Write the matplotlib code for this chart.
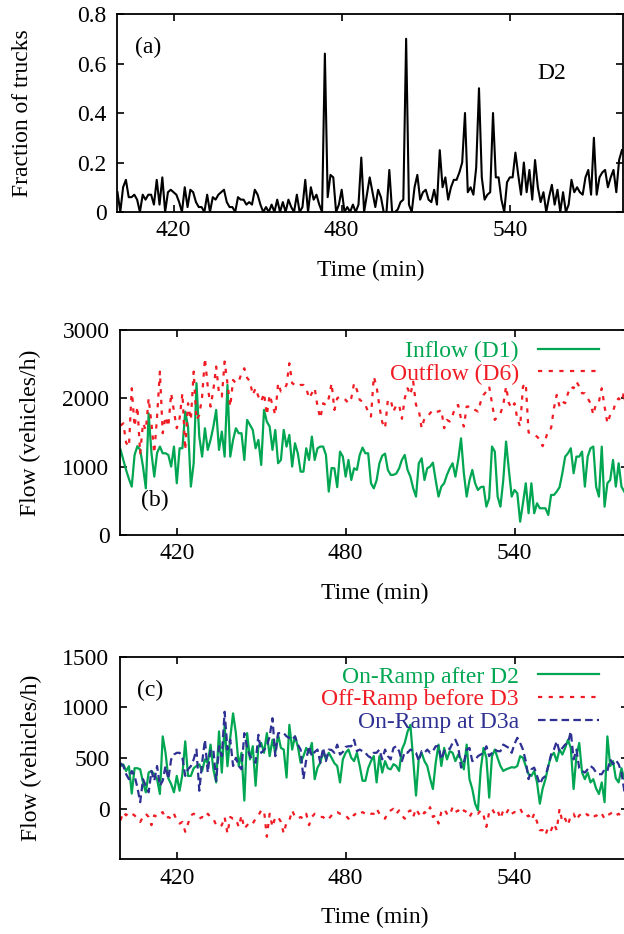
import matplotlib
matplotlib.use("Agg")
import matplotlib.pyplot as plt

plt.rcParams['font.family'] = ['Liberation Serif', 'DejaVu Serif']

# time in minutes, one sample per minute
time = list(range(400, 581))

# (a) fraction of trucks at D2
trucks = [0.08, 0.0, 0.10, 0.13, 0.06, 0.06, 0.07, 0.05, 0.0, 0.07,
          0.05, 0.07, 0.07, 0.03, 0.13, 0.03, 0.14, 0.0, 0.08, 0.09,
          0.08, 0.07, 0.04, 0.0, 0.10, 0.02, 0.09, 0.08, 0.04, 0.02,
          0.02, 0.0, 0.07, 0.0, 0.06, 0.05, 0.07, 0.08, 0.09, 0.04,
          0.02, 0.02, 0.0, 0.06, 0.05, 0.05, 0.03, 0.04, 0.03, 0.09,
          0.07, 0.03, 0.0, 0.02, 0.0, 0.03, 0.0, 0.05, 0.0, 0.04,
          0.0, 0.05, 0.02, 0.0, 0.07, 0.0, 0.02, 0.13, 0.0, 0.10,
          0.05, 0.07, 0.03, 0.0, 0.64, 0.06, 0.15, 0.14, 0.0, 0.03,
          0.09, 0.0, 0.02, 0.0, 0.03, 0.0, 0.03, 0.22, 0.0, 0.07,
          0.14, 0.08, 0.02, 0.09, 0.06, 0.0, 0.0, 0.17, 0.0, 0.0,
          0.01, 0.04, 0.05, 0.70, 0.03, 0.0, 0.10, 0.15, 0.05, 0.08,
          0.09, 0.05, 0.04, 0.09, 0.03, 0.25, 0.10, 0.14, 0.05, 0.10,
          0.13, 0.13, 0.16, 0.20, 0.40, 0.08, 0.10, 0.07, 0.18, 0.50,
          0.14, 0.05, 0.07, 0.08, 0.40, 0.14, 0.14, 0.05, 0.0, 0.12,
          0.14, 0.14, 0.24, 0.15, 0.07, 0.20, 0.08, 0.17, 0.05, 0.21,
          0.10, 0.04, 0.08, 0.0, 0.06, 0.11, 0.03, 0.09, 0.0, 0.08,
          0.0, 0.03, 0.13, 0.08, 0.10, 0.08, 0.07, 0.14, 0.17, 0.07,
          0.30, 0.07, 0.14, 0.16, 0.17, 0.10, 0.14, 0.17, 0.08, 0.21,
          0.25]

# (b) inflow D1 / outflow D6 (vehicles/h)
inflow = [1250, 1100, 950, 820, 708, 1171, 1300, 1245, 1000, 683,
          1780, 1200, 854, 1200, 1294, 1196, 1196, 1171, 1001, 1294,
          757, 1269, 1269, 1806, 1586, 708, 1050, 2221, 1440, 1147,
          1562, 1245, 1391, 1586, 1830, 1245, 1513, 1147, 2196, 1147,
          1391, 1562, 1489, 1489, 1098, 1684, 1611, 1537, 1269, 1391,
          1025, 1830, 1659, 1586, 1245, 1537, 1050, 1098, 1537, 1294,
          1464, 1001, 1342, 1196, 927, 927, 1269, 1098, 1440, 1098,
          1269, 1294, 1294, 1171, 635, 980, 976, 700, 1220, 1147,
          854, 1098, 805, 976, 952, 1171, 1279, 1196, 1196, 757,
          683, 800, 1050, 1160, 1190, 952, 880, 880, 900, 976,
          1100, 1171, 952, 854, 683, 562, 1050, 1123, 805, 976,
          1001, 1059, 800, 562, 708, 757, 880, 976, 1050, 854,
          1100, 1415, 903, 562, 800, 952, 757, 659, 700, 708,
          415, 537, 1294, 1220, 562, 415, 800, 1367, 952, 562,
          659, 610, 195, 464, 757, 318, 757, 318, 464, 391,
          391, 391, 293, 586, 586, 635, 700, 903, 1147, 1196,
          1269, 903, 1147, 1147, 1220, 708, 1147, 1269, 1294, 708,
          562, 1294, 415, 757, 805, 1098, 708, 1050, 708, 635,
          560]
outflow = [1600, 1635, 1350, 1293, 2147, 1586, 1879, 1196, 1635, 1537,
           2001, 1635, 1196, 1733, 2391, 1489, 1733, 1586, 2074, 1806,
           1562, 1708, 2074, 1245, 1928, 1684, 2391, 1684, 1757, 2025,
           2587, 2172, 1879, 2123, 2465, 2074, 2025, 2538, 2221, 1879,
           2269, 2221, 2245, 2367, 2440, 2300, 2245, 2050, 2147, 2025,
           1952, 2074, 1757, 2050, 1903, 1757, 2221, 2099, 2123, 2196,
           2513, 2221, 2196, 2172, 2196, 2196, 2147, 2001, 2074, 2150,
           1879, 1708, 1928, 1903, 2001, 2221, 1830, 2001, 2025, 2000,
           1977, 1928, 2001, 2221, 2123, 1977, 1952, 1903, 1800, 1733,
           2318, 2172, 1879, 1650, 1562, 1977, 1977, 1806, 1903, 1903,
           1700, 2000, 2147, 2050, 2245, 1903, 1830, 1562, 1708, 1733,
           1780, 1830, 1806, 1806, 1830, 1562, 1684, 1660, 1750, 1879,
           1903, 1700, 1586, 1879, 1879, 1879, 1830, 1806, 1952, 2050,
           2100, 2172, 1928, 1684, 1733, 1780, 1903, 2172, 1928, 1855,
           1928, 1700, 1586, 2172, 2221, 1500, 1489, 1464, 1440, 1391,
           1300, 1400, 1537, 1562, 1855, 2050, 1879, 1952, 1928, 2074,
           2172, 2147, 2245, 2172, 2074, 2074, 2001, 1928, 1760, 1928,
           1952, 2147, 1879, 1635, 1757, 1806, 1950, 2001, 1952, 2100,
           1300]

# (c) ramp flows (vehicles/h)
onramp_d2 = [420, 438, 373, 420, 150, 400, 400, 389, 260, 162,
             357, 373, 340, 292, 146, 714, 552, 300, 243, 162,
             324, 178, 341, 665, 324, 324, 400, 422, 438, 373,
             487, 450, 633, 389, 260, 763, 357, 828, 420, 700,
             941, 746, 422, 552, 81, 746, 487, 617, 227, 617,
             649, 552, 746, 519, 681, 552, 730, 600, 584, 308,
             828, 584, 714, 617, 454, 519, 600, 552, 649, 292,
             406, 454, 568, 487, 552, 503, 450, 422, 260, 487,
             552, 584, 503, 470, 552, 422, 276, 276, 400, 470,
             520, 260, 519, 357, 470, 400, 389, 440, 422, 373,
             584, 650, 760, 828, 487, 130, 503, 552, 470, 422,
             300, 195, 454, 633, 422, 600, 487, 568, 552, 470,
             535, 487, 389, 633, 292, 195, 50, -16, 389, 600,
             503, 110, 519, 584, 500, 422, 373, 389, 400, 410,
             406, 422, 519, 503, 422, 340, 324, 373, 260, 50,
             200, 292, 422, 519, 552, 470, 584, 535, 600, 681,
             600, 195, 519, 649, 357, 292, 357, 260, 292, 200,
             146, 260, 65, 714, 422, 470, 300, 260, 400, 292,
             389]
offramp_d3 = [-114, -33, -65, -33, -49, -65, -98, -130, -81, -49,
              -81, -162, -65, -81, -49, -33, -98, -81, -98, -49,
              -114, -146, -130, -227, -146, -65, -49, -65, -98, -81,
              -98, -49, -81, -98, -162, -179, -162, -81, -244, -81,
              -98, -98, -179, -65, -195, -162, -130, -146, -98, -65,
              -16, -16, -276, -49, -179, -81, -81, -130, -244, -130,
              -114, -16, -81, -98, -81, -98, -49, -162, -81, -49,
              -65, -81, -81, -114, -98, -65, -33, -33, -49, -49,
              -65, -98, -49, -65, -33, -49, -33, -49, -33, -49,
              -49, 0, -49, -81, -98, -33, -16, 0, -49, -16,
              -65, -98, -33, -16, -81, 0, -49, -81, -33, -49,
              16, -81, -65, -146, -33, 0, -49, -65, 16, -33,
              -16, -49, -16, -33, -81, -33, -33, -49, -16, -65,
              -179, -33, 0, -49, -16, -98, -16, -49, 0, -49,
              -33, -33, 0, -49, -81, -65, -114, -49, -130, -211,
              -211, -260, -179, -211, -146, -211, 0, -130, -98, -162,
              -65, -49, -114, -65, -49, -33, -65, -49, -81, -65,
              -81, -49, -98, -65, -49, -33, -65, -49, -81, -65,
              -65]
onramp_d3a = [450, 422, 341, 292, 373, 324, 211, 65, 292, 227,
              162, 373, 276, 422, 227, 276, 422, 292, 487, 535,
              552, 552, 503, 324, 389, 420, 487, 584, 178, 454,
              681, 357, 584, 584, 276, 617, 519, 957, 584, 681,
              422, 503, 422, 389, 746, 600, 519, 487, 454, 730,
              552, 580, 617, 714, 893, 519, 746, 746, 746, 714,
              698, 681, 714, 633, 584, 292, 487, 617, 519, 560,
              584, 454, 600, 470, 584, 580, 552, 633, 535, 560,
              610, 617, 617, 681, 568, 584, 568, 552, 520, 503,
              552, 552, 584, 487, 584, 520, 487, 600, 617, 568,
              470, 560, 552, 584, 570, 552, 470, 568, 552, 584,
              552, 568, 617, 617, 487, 568, 600, 590, 650, 681,
              617, 406, 454, 584, 600, 470, 480, 519, 535, 552,
              617, 519, 552, 584, 568, 568, 633, 617, 600, 552,
              640, 700, 650, 584, 470, 292, 389, 406, 324, 243,
              300, 324, 422, 535, 584, 665, 560, 600, 633, 649,
              763, 487, 584, 400, 373, 357, 389, 422, 400, 357,
              341, 341, 389, 373, 487, 440, 480, 440, 357, 178,
              406]

green = '#00a651'
red = '#f01c24'
blue = '#2e3192'
dotted = (0, (1.9, 2.9))
dashed = (0, (3.4, 1.9))
fs = 17

fig = plt.figure(figsize=(6.24, 9.34), dpi=100)
ax1 = fig.add_axes([0.1883, 0.7730, 0.8106, 0.2120])
ax2 = fig.add_axes([0.1931, 0.4272, 0.8141, 0.2195])
ax3 = fig.add_axes([0.1931, 0.0798, 0.8141, 0.2171])

ax1.plot(time, trucks, color='black', lw=1.5)
ax1.set_ylim(0, 0.8)
ax1.set_yticks([0, 0.2, 0.4, 0.6, 0.8])
ax1.set_yticklabels(['0', '0.2', '0.4', '0.6', '0.8'])
ax1.set_ylabel('Fraction of trucks', fontsize=fs, va='center')
ax1.yaxis.set_label_coords(-0.187, 0.5)
ax1.text(0.06, 0.83, '(a)', transform=ax1.transAxes, fontsize=fs, ha='center', va='center')
ax1.text(0.859, 0.70, 'D2', transform=ax1.transAxes, fontsize=fs, ha='center', va='center')

ax2.plot(time, inflow, color=green, lw=1.6, label='Inflow (D1)')
ax2.plot(time, outflow, color=red, lw=1.6, ls=dotted, label='Outflow (D6)')
ax2.set_ylim(0, 3000)
ax2.set_yticks([0, 1000, 2000, 3000])
ax2.set_ylabel('Flow (vehicles/h)', fontsize=fs, va='center')
ax2.yaxis.set_label_coords(-0.177, 0.5)
ax2.text(0.068, 0.17, '(b)', transform=ax2.transAxes, fontsize=fs, ha='center', va='center')

ax3.plot(time, onramp_d2, color=green, lw=1.6, label='On-Ramp after D2')
ax3.plot(time, offramp_d3, color=red, lw=1.6, ls=dotted, label='Off-Ramp before D3')
ax3.plot(time, onramp_d3a, color=blue, lw=1.6, ls=dashed, label='On-Ramp at D3a')
ax3.set_ylim(-500, 1500)
ax3.set_yticks([0, 500, 1000, 1500])
ax3.set_ylabel('Flow (vehicles/h)', fontsize=fs, va='center')
ax3.yaxis.set_label_coords(-0.176, 0.5)
ax3.text(0.058, 0.835, '(c)', transform=ax3.transAxes, fontsize=fs, ha='center', va='center')

for ax, ypos in [(ax1, -0.293), (ax2, -0.283), (ax3, -0.288)]:
    ax.set_xlim(400, 580.5)
    ax.set_xticks([420, 480, 540])
    ax.set_xlabel('Time (min)', fontsize=fs, va='center')
    ax.xaxis.set_label_coords(0.5, ypos)
    ax.tick_params(direction='in', length=5, width=1.2, labelsize=fs,
                   top=True, right=True)
    ax.tick_params(axis='y', pad=8)
    ax.tick_params(axis='x', pad=6)
    for s in ax.spines.values():
        s.set_linewidth(1.3)

for ax, anchor in [(ax2, (0.975, 1.03)), (ax3, (0.975, 1.035))]:
    leg = ax.legend(loc='upper right', bbox_to_anchor=anchor, frameon=False,
                    markerfirst=False, fontsize=fs, handlelength=2.6,
                    labelspacing=0.05, handletextpad=0.8, borderpad=0.2)
    for txt, line in zip(leg.get_texts(), leg.get_lines()):
        txt.set_color(line.get_color())

fig.savefig('out.png', dpi=100)
